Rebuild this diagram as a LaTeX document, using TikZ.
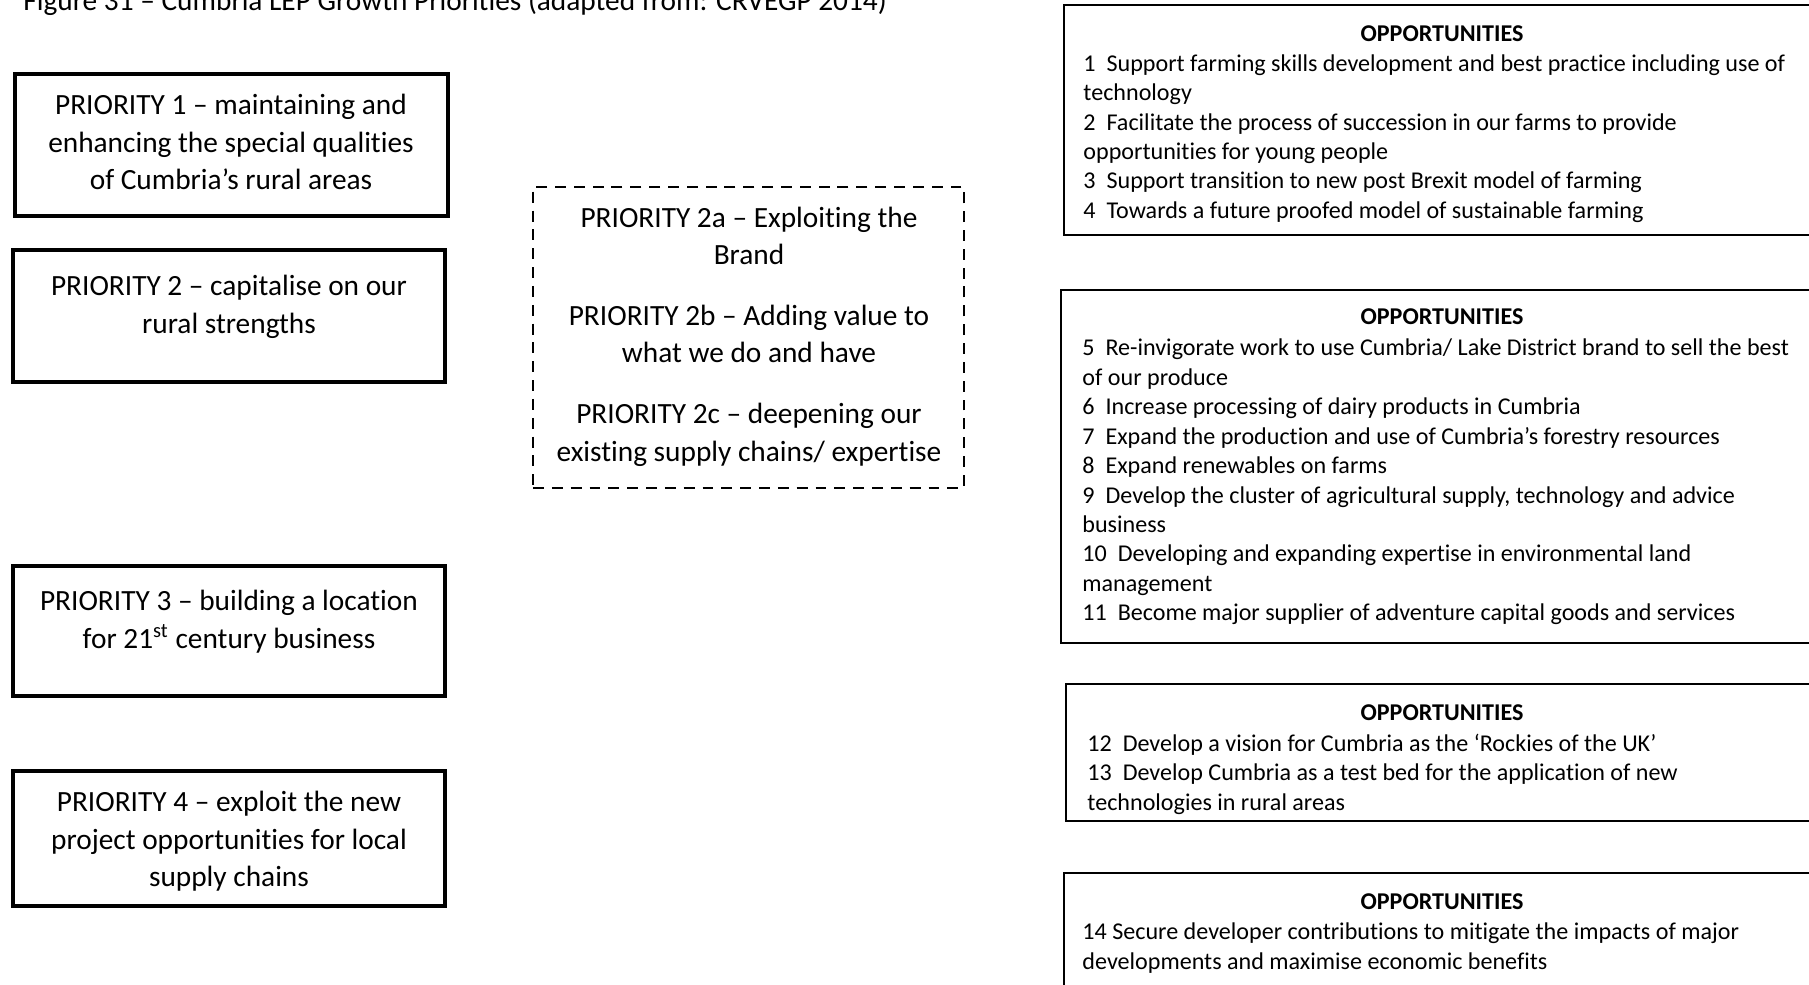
\documentclass[tikz,border=0pt]{standalone}
\usepackage{fontspec}
\setmainfont{Carlito}[Ligatures={TeX,NoCommon}]
\usetikzlibrary{
    positioning,
    fit
}
\tikzset{prbox/.style={draw=black, line width=1.4pt, inner sep=0pt}}
\tikzset{dashbox/.style={draw=black, line width=1.1pt, dash pattern=on 5pt off 3.6pt, inner sep=0pt}}
\tikzset{opbox/.style={draw=black, line width=0.7pt, inner sep=0pt}}
\tikzset{prtext/.style={align=center, inner sep=0pt, font=\fontsize{13.4}{17.2}\selectfont}}
\tikzset{ophead/.style={inner sep=0pt, font=\fontsize{11}{13.4}\selectfont\bfseries}}
\tikzset{optext/.style={align=left, anchor=west, inner sep=0pt, font=\fontsize{11}{13.45}\selectfont}}

\begin{document}
\begin{tikzpicture}[x=0.4566pt, y=-0.4566pt]
                        \useasboundingbox (0, 0) rectangle (1809, 985);
                        \clip (0, 0) rectangle (1809, 985);
                        \node[anchor=base west, inner sep=0pt, font=\fontsize{13.4}{17.2}\selectfont] (title) at (23, 11)
                            {Figure 31 – Cumbria LEP Growth Priorities (adapted from: CRVEGP 2014)};
                        \node[prbox, fit={(15, 74) (448, 216)}] (p1) {};
                        \node[prbox, fit={(13, 250) (445, 382)}] (p2) {};
                        \node[dashbox, fit={(533, 187) (964, 488)}] (p2x) {};
                        \node[prbox, fit={(13, 566) (445, 696)}] (p3) {};
                        \node[prbox, fit={(13, 771) (445, 906)}] (p4) {};
                        \node[prtext] (p1t) at (231, 142) {PRIORITY 1 – maintaining and\\enhancing the special qualities\\of Cumbria’s rural areas};
                        \node[prtext] (p2t) at (229, 307) {PRIORITY 2 – capitalise on our\\rural strengths};
                        \node[prtext] (p2at) at (749, 236) {PRIORITY 2a – Exploiting the\\Brand};
                        \node[prtext] (p2bt) at (749, 334) {PRIORITY 2b – Adding value to\\what we do and have};
                        \node[prtext] (p2ct) at (749, 435) {PRIORITY 2c – deepening our\\existing supply chains/ expertise};
                        \node[prtext] (p3t) at (229, 622) {PRIORITY 3 – building a location\\for 21\textsuperscript{st} century business};
                        \node[prtext] (p4t) at (229, 841.5) {PRIORITY 4 – exploit the new\\project opportunities for local\\supply chains};
                        \node[opbox, fit={(1064, 5) (1822, 235)}] (o1) {};
                        \node[opbox, fit={(1061, 290) (1822, 643)}] (o2) {};
                        \node[opbox, fit={(1066, 684) (1822, 821)}] (o3) {};
                        \node[opbox, fit={(1064, 873) (1822, 1000)}] (o4) {};
                        \node[ophead] (o1h) at (1442, 34) {OPPORTUNITIES};
                        \node[ophead] (o2h) at (1442, 317) {OPPORTUNITIES};
                        \node[ophead] (o3h) at (1442, 713) {OPPORTUNITIES};
                        \node[ophead] (o4h) at (1442, 902) {OPPORTUNITIES};
                        \node[optext] (o1t) at (1083, 138.5) {1~~Support farming skills development and best practice including use of\\technology\\2~~Facilitate the process of succession in our farms to provide\\opportunities for young people\\3~~Support transition to new post Brexit model of farming\\4~~Towards a future proofed model of sustainable farming};
                        \node[optext] (o2t) at (1082, 482) {5~~Re-invigorate work to use Cumbria/ Lake District brand to sell the best\\of our produce\\6~~Increase processing of dairy products in Cumbria\\7~~Expand the production and use of Cumbria’s forestry resources\\8~~Expand renewables on farms\\9~~Develop the cluster of agricultural supply, technology and advice\\business\\10~~Developing and expanding expertise in environmental land\\management\\11~~Become major supplier of adventure capital goods and services};
                        \node[optext] (o3t) at (1087, 774) {12~~Develop a vision for Cumbria as the ‘Rockies of the UK’\\13~~Develop Cumbria as a test bed for the application of new\\technologies in rural areas};
                        \node[optext] (o4t) at (1082, 948) {14 Secure developer contributions to mitigate the impacts of major\\developments and maximise economic benefits};
                    \end{tikzpicture}
\end{document}
